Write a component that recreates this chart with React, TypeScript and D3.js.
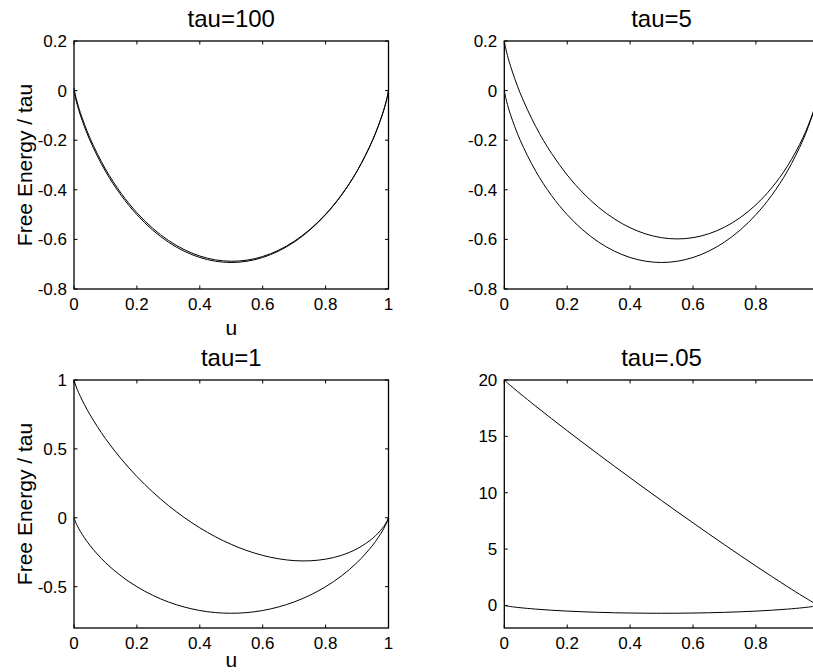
import React from "react";
import * as d3 from "d3";

// Mixing fraction u sampled on [0, 1]
const uValues = [
  0, 0.005, 0.01, 0.02, 0.05, 0.1, 0.15, 0.2, 0.25, 0.3, 0.35, 0.4, 0.45, 0.5,
  0.55, 0.6, 0.65, 0.7, 0.75, 0.8, 0.85, 0.9, 0.95, 0.98, 0.99, 0.995, 1,
];

// Entropy-only free energy (lower curve, same in every panel)
const entropyCurve = [
  0, -0.0315, -0.056, -0.098, -0.1985, -0.3251, -0.4227, -0.5004, -0.5623,
  -0.6109, -0.6474, -0.673, -0.6881, -0.6931, -0.6881, -0.673, -0.6474,
  -0.6109, -0.5623, -0.5004, -0.4227, -0.3251, -0.1985, -0.098, -0.056,
  -0.0315, 0,
];

// Free energy / tau including the interaction term
const tau100Curve = [
  0.01, -0.0215, -0.0461, -0.0882, -0.189, -0.3161, -0.4142, -0.4924, -0.5548,
  -0.6039, -0.6409, -0.667, -0.6826, -0.6881, -0.6836, -0.669, -0.6439,
  -0.6079, -0.5598, -0.4984, -0.4212, -0.3241, -0.198, -0.0978, -0.0559,
  -0.0315, 0,
];
const tau5Curve = [
  0.2, 0.1675, 0.142, 0.098, -0.0085, -0.1451, -0.2527, -0.3404, -0.4123,
  -0.4709, -0.5174, -0.553, -0.5781, -0.5931, -0.5981, -0.593, -0.5774,
  -0.5509, -0.5123, -0.4604, -0.3927, -0.3051, -0.1885, -0.094, -0.054,
  -0.0305, 0,
];
const tau1Curve = [
  1, 0.9635, 0.934, 0.882, 0.7515, 0.5749, 0.4273, 0.2996, 0.1877, 0.0891,
  0.0026, -0.073, -0.1381, -0.1931, -0.2381, -0.273, -0.2974, -0.3109,
  -0.3123, -0.3004, -0.2727, -0.2251, -0.1485, -0.078, -0.046, -0.0265, 0,
];
const tau005Curve = [
  20, 19.8685, 19.744, 19.502, 18.8015, 17.6749, 16.5773, 15.4996, 14.4377,
  13.3891, 12.3526, 11.327, 10.3119, 9.3069, 8.3119, 7.327, 6.3526, 5.3891,
  4.4377, 3.4996, 2.5773, 1.6749, 0.8015, 0.302, 0.144, 0.0685, 0,
];

const panelTitles = ["tau=100", "tau=5", "tau=1", "tau=.05"];
const xTicksFull = [0, 0.2, 0.4, 0.6, 0.8, 1];
// the right-hand axes run past the page edge, so their "1" tick is off-page
const xTicksRight = [0, 0.2, 0.4, 0.6, 0.8];
const yTicksTop = [0.2, 0, -0.2, -0.4, -0.6, -0.8];
const yTicksTau1 = [1, 0.5, 0, -0.5];
const yTicksTau005 = [20, 15, 10, 5, 0];
const yLabel = "Free Energy / tau";
const xLabel = "u";

type Panel = {
  title: string;
  x0: number;
  y0: number;
  yDomain: [number, number];
  yTicks: number[];
  xTicks: number[];
  curves: number[][];
  showLabels: boolean;
};

const W = 314.5;
const H = 248;
const FONT = "'Liberation Sans', Arial, sans-serif";
const TICK_FS = 17;
const LABEL_FS = 21;
const TITLE_FS = 24;
const PAGE_H = 672;

const panels: Panel[] = [
  { title: panelTitles[0], x0: 74, y0: 41, yDomain: [-0.8, 0.2], yTicks: yTicksTop, xTicks: xTicksFull, curves: [tau100Curve, entropyCurve], showLabels: true },
  { title: panelTitles[1], x0: 504.3, y0: 41, yDomain: [-0.8, 0.2], yTicks: yTicksTop, xTicks: xTicksRight, curves: [tau5Curve, entropyCurve], showLabels: false },
  { title: panelTitles[2], x0: 74, y0: 380, yDomain: [-0.8, 1], yTicks: yTicksTau1, xTicks: xTicksFull, curves: [tau1Curve, entropyCurve], showLabels: true },
  { title: panelTitles[3], x0: 504.3, y0: 380, yDomain: [-2, 20], yTicks: yTicksTau005, xTicks: xTicksRight, curves: [tau005Curve, entropyCurve], showLabels: false },
];

function fmt(v: number) {
  return String(Math.round(v * 100) / 100);
}

function PanelView({ p }: { p: Panel }) {
  const x = d3.scaleLinear().domain([0, 1]).range([p.x0, p.x0 + W]);
  const y = d3.scaleLinear().domain(p.yDomain).range([p.y0 + H, p.y0]);
  const line = d3
    .line<number>()
    .x((_, i) => x(uValues[i]))
    .y((d) => y(d))
    .curve(d3.curveCatmullRom.alpha(0.5));
  const tl = 3.5;
  const right = p.x0 + W;
  const bottom = p.y0 + H;
  return (
    <g>
      <text x={p.x0 + W / 2} y={p.y0 - 14.5} textAnchor="middle" fontSize={TITLE_FS} fontFamily={FONT}>
        {p.title}
      </text>
      {p.curves.map((c, i) => (
        <path key={i} d={line(c) || ""} fill="none" stroke="#000" strokeWidth={1} />
      ))}
      <rect x={p.x0} y={p.y0} width={W} height={H} fill="none" stroke="#000" strokeWidth={1.3} />
      {p.xTicks.map((t) => (
        <g key={"x" + t}>
          <line x1={x(t)} x2={x(t)} y1={bottom} y2={bottom - tl} stroke="#000" />
          <line x1={x(t)} x2={x(t)} y1={p.y0} y2={p.y0 + tl} stroke="#000" />
          <text x={x(t)} y={bottom + 21} textAnchor="middle" fontSize={TICK_FS} fontFamily={FONT}>
            {fmt(t)}
          </text>
        </g>
      ))}
      {p.yTicks.map((t) => (
        <g key={"y" + t}>
          <line x1={p.x0} x2={p.x0 + tl} y1={y(t)} y2={y(t)} stroke="#000" />
          <line x1={right} x2={right - tl} y1={y(t)} y2={y(t)} stroke="#000" />
          <text x={p.x0 - 7} y={y(t) + 6} textAnchor="end" fontSize={TICK_FS} fontFamily={FONT}>
            {fmt(t)}
          </text>
        </g>
      ))}
      {p.showLabels && (
        <>
          <text
            transform={`translate(${p.x0 - 42},${p.y0 + H / 2}) rotate(-90)`}
            textAnchor="middle"
            fontSize={LABEL_FS}
            fontFamily={FONT}
          >
            {yLabel}
          </text>
          <text
            x={p.x0 + W / 2}
            y={Math.min(bottom + 46, PAGE_H - 5)}
            textAnchor="middle"
            fontSize={LABEL_FS}
            fontFamily={FONT}
          >
            {xLabel}
          </text>
        </>
      )}
    </g>
  );
}

export default function App() {
  return (
    <svg
      width={813}
      height={PAGE_H}
      style={{ position: "absolute", left: 0, top: 0, background: "#fff" }}
    >
      <rect width={813} height={PAGE_H} fill="#fff" />
      {panels.map((p) => (
        <PanelView key={p.title} p={p} />
      ))}
    </svg>
  );
}
